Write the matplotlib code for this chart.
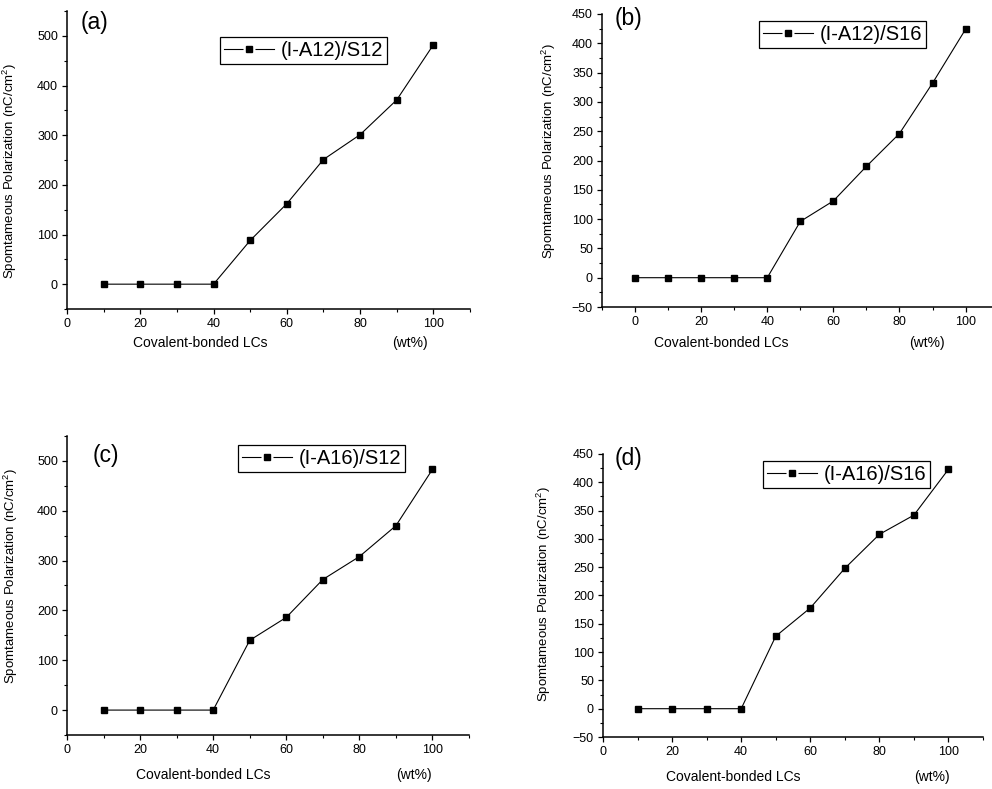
import matplotlib
matplotlib.use("Agg")
import matplotlib.pyplot as plt
from matplotlib.ticker import MultipleLocator
from matplotlib.lines import Line2D
from matplotlib.legend_handler import HandlerTuple

plt.rcParams['font.family'] = ['Liberation Sans', 'DejaVu Sans']
plt.rcParams['mathtext.default'] = 'regular'

# ---- data ----
x_a = [10, 20, 30, 40, 50, 60, 70, 80, 90, 100]
y_a = [0, 0, 0, 0, 88, 162, 251, 301, 371, 482]
x_b = [0, 10, 20, 30, 40, 50, 60, 70, 80, 90, 100]
y_b = [0, 0, 0, 0, 0, 96, 131, 190, 246, 332, 424]
x_c = [10, 20, 30, 40, 50, 60, 70, 80, 90, 100]
y_c = [0, 0, 0, 0, 140, 186, 262, 308, 370, 483]
x_d = [10, 20, 30, 40, 50, 60, 70, 80, 90, 100]
y_d = [0, 0, 0, 0, 128, 178, 248, 308, 342, 423]
series_names = ["(I-A12)/S12", "(I-A12)/S16", "(I-A16)/S12", "(I-A16)/S16"]
panel_tags = ["(a)", "(b)", "(c)", "(d)"]
xlabel = "Covalent-bonded LCs"
xunit = "(wt%)"
ylabel = "Spomtameous Polarization (nC/cm$^2$)"

W, H = 992, 789
fig = plt.figure(figsize=(W / 100, H / 100), dpi=100)


def px(x, y):
    return x / W, 1 - y / H


def make_axes(l, r, t, b):
    return fig.add_axes([l / W, 1 - b / H, (r - l) / W, (b - t) / H])


panels = [
    dict(x=x_a, y=y_a, box=(67, 470, 11, 309), xlim=(0, 110), ylim=(-50, 550),
         ymaj=100, ymin=50, ylab=(-0.119, 0.463), tag=(94, 22),
         leg=(220, 37), xl=(200, 343), xu=(410, 343)),
    dict(x=x_b, y=y_b, box=(602, 992, 14, 307), xlim=(-10, 108), ylim=(-50, 450),
         ymaj=50, ymin=25, ylab=(-0.114, 0.533), tag=(628, 19),
         leg=(759, 21), xl=(721, 343), xu=(927, 343)),
    dict(x=x_c, y=y_c, box=(67, 469, 436, 735), xlim=(0, 110), ylim=(-50, 550),
         ymaj=100, ymin=50, ylab=(-0.118, 0.532), tag=(106, 456),
         leg=(238, 445), xl=(203, 775), xu=(414, 775)),
    dict(x=x_d, y=y_d, box=(603, 983, 454, 737), xlim=(0, 110), ylim=(-50, 450),
         ymaj=50, ymin=25, ylab=(-0.131, 0.504), tag=(628, 459),
         leg=(763, 461), xl=(733, 777), xu=(932, 777)),
]

for i, p in enumerate(panels):
    ax = make_axes(*p['box'])
    ax.plot(p['x'], p['y'], color='black', lw=0.8, marker='s', ms=4.8,
            mfc='black', mec='black')
    ax.set_xlim(*p['xlim'])
    ax.set_ylim(*p['ylim'])
    ax.xaxis.set_major_locator(MultipleLocator(20))
    ax.xaxis.set_minor_locator(MultipleLocator(10))
    ax.yaxis.set_major_locator(MultipleLocator(p['ymaj']))
    ax.yaxis.set_minor_locator(MultipleLocator(p['ymin']))
    for s in ['top', 'right']:
        ax.spines[s].set_visible(False)
    for s in ['left', 'bottom']:
        ax.spines[s].set_linewidth(1.1)
    ax.tick_params(which='major', direction='out', length=3.5, width=0.9,
                   labelsize=9, colors='black', pad=3)
    ax.tick_params(which='minor', direction='out', length=2.2, width=0.8)
    ax.patch.set_alpha(0)
    ax.set_ylabel(ylabel, fontsize=9.5)
    ax.yaxis.set_label_coords(*p['ylab'])
    fig.text(*px(*p['tag']), panel_tags[i], fontsize=16.5, ha='center', va='center')
    fig.text(*px(*p['xl']), xlabel, fontsize=10, ha='center', va='center')
    fig.text(*px(*p['xu']), xunit, fontsize=10, ha='center', va='center')
    h_line = Line2D([], [], color='black', lw=0.8)
    h_gap = Line2D([], [], ls='none', marker='s', ms=8.5, mfc='white', mec='none')
    h_mark = Line2D([], [], ls='none', marker='s', ms=4.6, mfc='black', mec='black')
    leg = ax.legend(handles=[(h_line, h_gap, h_mark)], labels=[series_names[i]],
                    handler_map={tuple: HandlerTuple(ndivide=1, pad=0)},
                    loc='upper left', bbox_to_anchor=px(*p['leg']),
                    bbox_transform=fig.transFigure, borderaxespad=0,
                    fontsize=14.5, handlelength=2.5,
                    handletextpad=0.3, borderpad=0.2, fancybox=False,
                    framealpha=1, edgecolor='black')
    leg.get_frame().set_linewidth(0.9)

fig.savefig("out.png", dpi=100)
